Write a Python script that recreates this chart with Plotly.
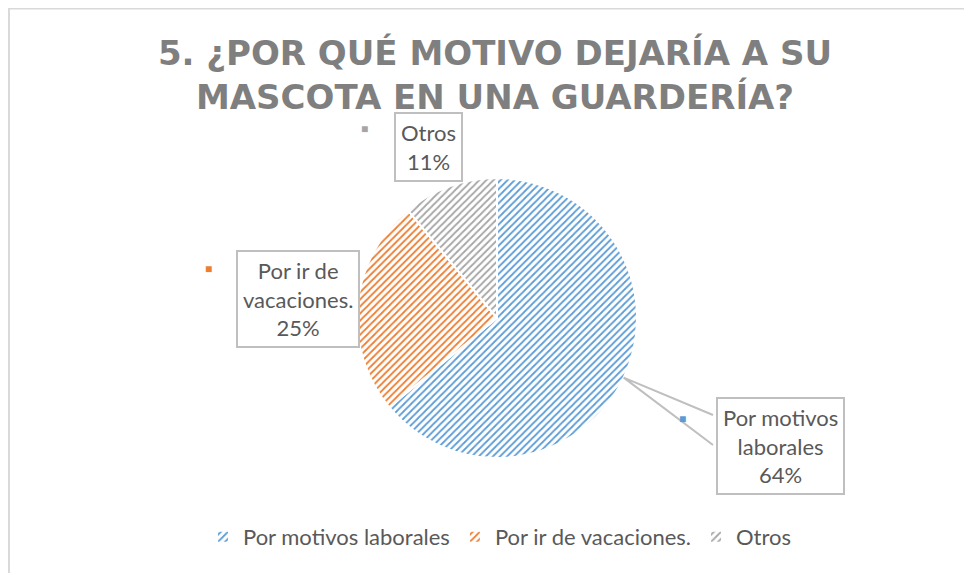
import math
import plotly.graph_objects as go

W, H = 972, 573

title = "5. ¿POR QUÉ MOTIVO DEJARÍA A SU<br>MASCOTA EN UNA GUARDERÍA?"
labels = ["Por motivos laborales", "Por ir de vacaciones.", "Otros"]
values = [64, 25, 11]
label_text = ["Por motivos<br>laborales<br>64%", "Por ir de<br>vacaciones.<br>25%", "Otros<br>11%"]
strong_colors = ["#5B9BD5", "#ED7D31", "#A5A5A5"]
light_colors = ["#DCE9F6", "#FBE1CF", "#E9E9E9"]

# pie geometry in screen pixels
cx, cy, r = 497, 318, 140
# the page body has an 8px margin, so the figure starts at (8, 8)
OFF = 8


def px(x):
    return (x - OFF) / W


def py(y):
    return 1 - (y - OFF) / H


fig = go.Figure(go.Pie(
    labels=labels,
    values=values,
    sort=False,
    direction="clockwise",
    rotation=0,
    textinfo="none",
    hoverinfo="label+percent",
    marker=dict(
        colors=light_colors,
        line=dict(color="white", width=2),
        pattern=dict(shape="/", fgcolor=strong_colors, size=5, solidity=0.35),
    ),
    domain=dict(x=[px(cx - r), px(cx + r)], y=[py(cy + r), py(cy - r)]),
))

font = "Lato, Calibri, sans-serif"

# label box centres (screen pixels)
box_pos = [(780, 446), (298, 299), (428, 147)]
key_pos = [(682, 418), (208, 268), (364, 129)]

for txt, (bx, by), (kx, ky), col in zip(label_text, box_pos, key_pos, strong_colors):
    fig.add_annotation(
        x=px(bx), y=py(by), xref="paper", yref="paper",
        xanchor="center", yanchor="middle",
        text=txt, showarrow=False,
        font=dict(family=font, size=22, color="#595959"),
        bordercolor="#BFBFBF", borderwidth=2, borderpad=5,
        bgcolor="white", align="center",
    )
    fig.add_annotation(
        x=px(kx), y=py(ky), xref="paper", yref="paper",
        xanchor="center", yanchor="middle",
        text="■", showarrow=False,
        font=dict(size=12, color=col),
    )

# leader line for the largest slice
mid = values[0] / sum(values) * math.pi
ex, ey = cx + r * math.sin(mid), cy - r * math.cos(mid)
fig.add_shape(
    type="path", xref="paper", yref="paper",
    path=f"M {px(713)} {py(415)} L {px(ex)} {py(ey)} L {px(713)} {py(445)}",
    line=dict(color="#BFBFBF", width=2),
)

# outer chart border
fig.add_shape(
    type="rect", xref="paper", yref="paper",
    x0=0.001, y0=-0.05, x1=1.05, y1=0.999,
    line=dict(color="#D9D9D9", width=2),
)

fig.update_layout(
    width=W, height=H,
    margin=dict(l=0, r=0, t=0, b=0),
    paper_bgcolor="white",
    title=dict(
        text=title, x=px(495), xanchor="center", y=py(65), yanchor="top",
        font=dict(family="DejaVu Sans, sans-serif", size=34, color="#7F7F7F", weight="bold"),
    ),
    legend=dict(
        orientation="h", x=px(500), xanchor="center", y=py(537), yanchor="middle",
        font=dict(family=font, size=22, color="#595959"),
        itemsizing="constant",
    ),
    showlegend=True,
)

fig.write_html("out.html")
